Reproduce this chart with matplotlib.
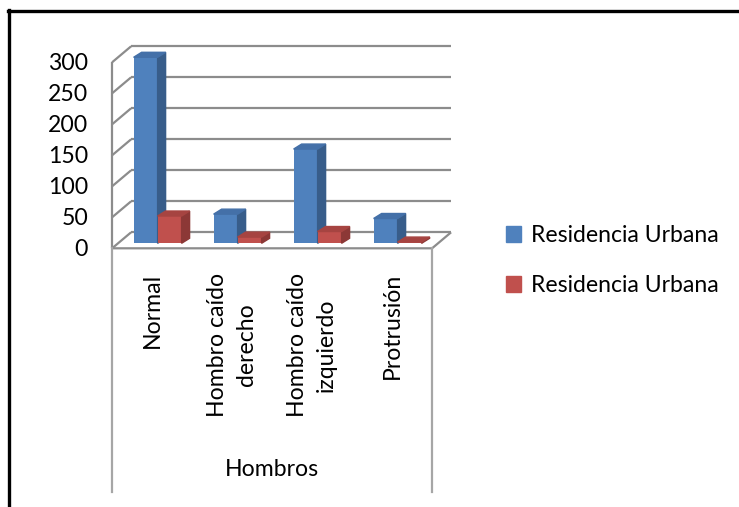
import matplotlib

matplotlib.use("Agg")
import matplotlib.pyplot as plt
from matplotlib.lines import Line2D
from matplotlib.patches import Patch, Polygon

plt.rcParams["font.family"] = ["Lato", "DejaVu Sans"]

# Datos: hombros por tipo de residencia
categorias = ["Normal", "Hombro caído\nderecho", "Hombro caído\nizquierdo", "Protrusión"]
serie_azul = [300, 47, 152, 40]
serie_roja = [44, 10, 19, 2]
nombres_series = ["Residencia Urbana", "Residencia Urbana"]
ticks_y = [0, 50, 100, 150, 200, 250, 300]
titulo_eje_x = "Hombros"

AZUL = ("#4F81BD", "#385D8A", "#4470A8")
ROJO = ("#C0504D", "#8C3836", "#A64441")
GRIS = "#8C8C8C"
FS = 16.6

W, H, DPI = 739, 507, 100
fig = plt.figure(figsize=(W / DPI, H / DPI), dpi=DPI)

# plano de las barras: categoria i ocupa 80 px, 0..300 ocupa 186 px
ax = fig.add_axes([117.6 / W, (H - 243.3) / H, 320 / W, 186 / H])
ax.set_xlim(0, len(categorias))
ax.set_ylim(0, 300)
ax.axis("off")

px_x = len(categorias) / 320
px_y = 300 / 186

# desplazamientos de la caja 3D (pixeles)
FX, FY = -5.5 * px_x, -5 * px_y      # plano frontal
BX, BY = 13.5 * px_x, 11 * px_y      # pared del fondo
BDX, BDY = 8 * px_x, 5 * px_y        # profundidad de cada barra
n = len(categorias)

linea = dict(color=GRIS, lw=1.6, clip_on=False, solid_capstyle="butt")

# pared del fondo, pared izquierda y suelo
for v in ticks_y:
    ax.plot([BX, n + BX], [v + BY, v + BY], zorder=1, **linea)
    ax.plot([FX, BX], [v + FY, v + BY], zorder=1, **linea)
    ax.text(FX - 24 * px_x, v + FY - 1.5 * px_y, str(v), ha="right", va="center", fontsize=FS)
ax.plot([FX, FX], [FY, ticks_y[-1] + FY], zorder=1, **linea)
ax.plot([FX, n + FX, n + BX], [FY, FY, BY], zorder=1, **linea)

# barras con caras lateral y superior
w = 0.3
for serie, colores, desp in ((serie_azul, AZUL, -w / 2), (serie_roja, ROJO, w / 2)):
    xs = [i + 0.5 + desp for i in range(n)]
    ax.bar(xs, serie, width=w, color=colores[0], zorder=3, clip_on=False)
    for x, h in zip(xs, serie):
        der, izq = x + w / 2, x - w / 2
        ax.add_patch(Polygon([(der, 0), (der + BDX, BDY), (der + BDX, h + BDY), (der, h)],
                             closed=True, color=colores[1], zorder=3, clip_on=False))
        ax.add_patch(Polygon([(izq, h), (izq + BDX, h + BDY), (der + BDX, h + BDY), (der, h)],
                             closed=True, color=colores[2], zorder=3, clip_on=False))

# eje de categorias
y_fondo = -(492 - 243.3) * px_y
ax.plot([FX, FX], [FY, y_fondo], color="#A6A6A6", lw=1.6, clip_on=False)
ax.plot([n + FX, n + FX], [FY, y_fondo], color="#A6A6A6", lw=1.6, clip_on=False)
for i, cat in enumerate(categorias):
    ax.text(i + 0.5 + FX, -(273 - 243.3) * px_y, cat, rotation=90, ha="center", va="top",
            multialignment="center", fontsize=FS, linespacing=1.45)
ax.text(n / 2 + FX, -(470 - 243.3) * px_y, titulo_eje_x, ha="center", va="center", fontsize=FS)

# leyenda
handles = [Patch(color=AZUL[0]), Patch(color=ROJO[0])]
fig.legend(handles, nombres_series, loc="center left", bbox_to_anchor=(506 / W, (H - 260.5) / H),
           frameon=False, fontsize=FS, handlelength=0.66, handleheight=0.66,
           handletextpad=0.42, labelspacing=1.25, borderpad=0, borderaxespad=0)

# marco exterior
fig.add_artist(Line2D([9 / W, 9 / W], [0, (H - 10) / H], color="black", lw=2.4,
                      transform=fig.transFigure))
fig.add_artist(Line2D([8 / W, 1], [(H - 11) / H, (H - 11) / H], color="black", lw=2.4,
                      transform=fig.transFigure))

fig.savefig("out.png", dpi=DPI)
